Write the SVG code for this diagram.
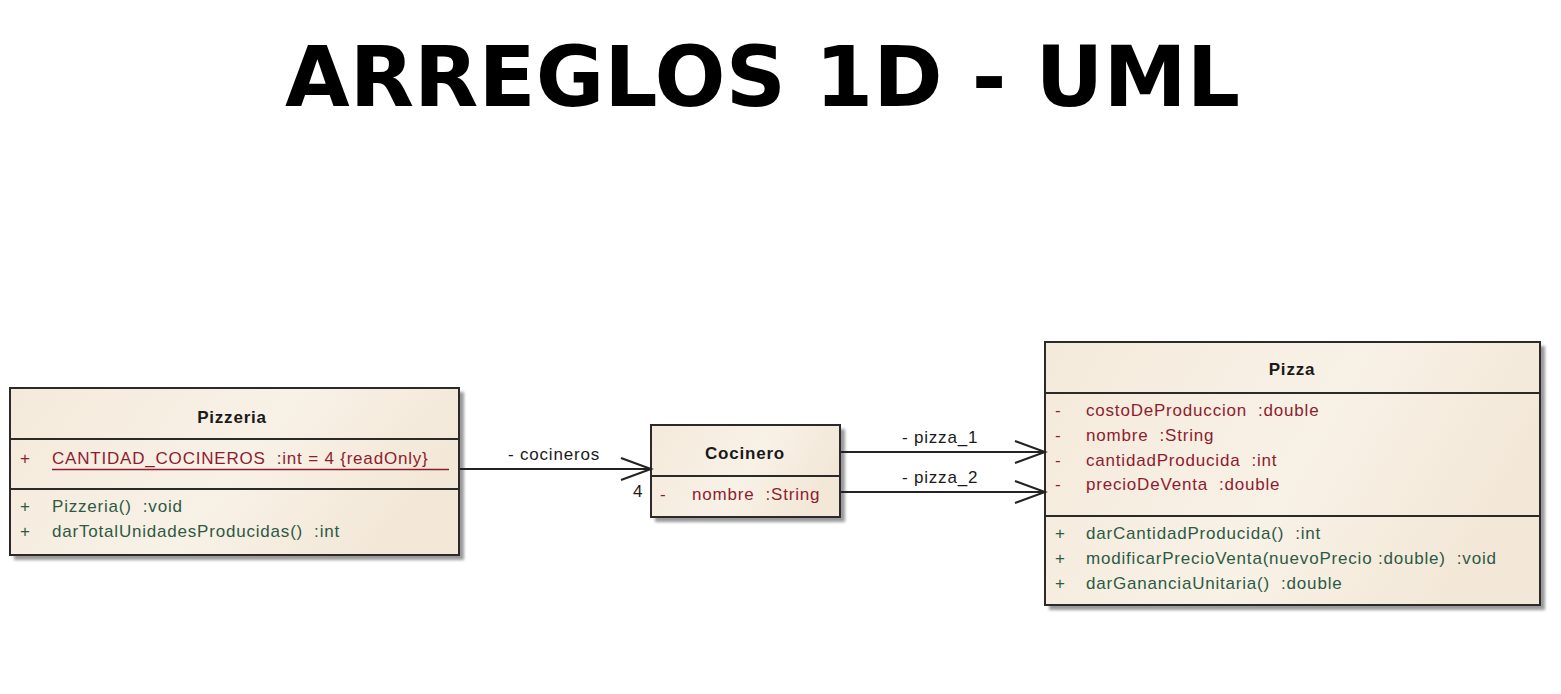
<svg xmlns="http://www.w3.org/2000/svg" width="1561" height="694" viewBox="0 0 1561 694" xml:space="preserve">
<defs>
<linearGradient id="fillg" x1="0" y1="0" x2="1" y2="0.3">
<stop offset="0" stop-color="#f4eadb"/>
<stop offset="0.6" stop-color="#f8f1e6"/>
<stop offset="1" stop-color="#f3e8d8"/>
</linearGradient>
<filter id="sh" x="-5%" y="-5%" width="115%" height="120%">
<feGaussianBlur stdDeviation="1.5"/>
</filter>
<marker id="open" markerWidth="34" markerHeight="26" refX="31" refY="13" orient="auto" markerUnits="userSpaceOnUse">
<path d="M1,2 L31,13 L1,24" fill="none" stroke="#222" stroke-width="2"/>
</marker>
</defs>
<style>
.box{fill:url(#fillg);stroke:#2a2a2a;stroke-width:2}
.shadow{fill:#9a9a9a;filter:url(#sh)}
.sep{stroke:#2a2a2a;stroke-width:2}
.t{font-family:"Liberation Sans",Arial,sans-serif;font-size:17px;letter-spacing:0.8px;white-space:pre}
.name{font-weight:bold;fill:#1a1a1a;text-anchor:middle}
.attr{fill:#8e1c30}
.meth{fill:#2c5a44}
.lbl{fill:#1a1a1a}
.edge{stroke:#222;stroke-width:2;fill:none}
.title{font-family:"DejaVu Sans","Liberation Sans",sans-serif;font-weight:900;font-size:84px;fill:#000}
</style>
<rect width="1561" height="694" fill="#ffffff"/>
<text class="title" x="285" y="106" textLength="955" lengthAdjust="spacingAndGlyphs">ARREGLOS 1D - UML</text>

<g id="Pizzeria">
<rect class="shadow" x="14" y="392" width="450" height="168"/>
<rect class="box" x="10" y="388" width="449" height="167"/>
<line class="sep" x1="10" y1="439" x2="459" y2="439"/>
<line class="sep" x1="10" y1="489" x2="459" y2="489"/>
<text class="t name" x="232" y="423">Pizzeria</text>
<text class="t attr" x="20" y="464">+</text>
<text class="t attr" x="52" y="464">CANTIDAD_COCINEROS  :int = 4 {readOnly}</text>
<line x1="52" y1="469.5" x2="449" y2="469.5" stroke="#8e1c30" stroke-width="1.5"/>
<text class="t meth" x="20" y="512">+</text>
<text class="t meth" x="52" y="512">Pizzeria()  :void</text>
<text class="t meth" x="20" y="537">+</text>
<text class="t meth" x="52" y="537">darTotalUnidadesProducidas()  :int</text>
</g>

<g id="Cocinero">
<rect class="shadow" x="655" y="429" width="190" height="93"/>
<rect class="box" x="651" y="425" width="189" height="92"/>
<line class="sep" x1="651" y1="476" x2="840" y2="476"/>
<text class="t name" x="745" y="459">Cocinero</text>
<text class="t attr" x="660" y="500">-</text>
<text class="t attr" x="692" y="500">nombre  :String</text>
</g>

<g id="Pizza">
<rect class="shadow" x="1049" y="346" width="496" height="264"/>
<rect class="box" x="1045" y="342" width="495" height="263"/>
<line class="sep" x1="1045" y1="393" x2="1540" y2="393"/>
<line class="sep" x1="1045" y1="516" x2="1540" y2="516"/>
<text class="t name" x="1292" y="375">Pizza</text>
<text class="t attr" x="1055" y="416">-</text>
<text class="t attr" x="1086" y="416">costoDeProduccion  :double</text>
<text class="t attr" x="1055" y="441">-</text>
<text class="t attr" x="1086" y="441">nombre  :String</text>
<text class="t attr" x="1055" y="466">-</text>
<text class="t attr" x="1086" y="466">cantidadProducida  :int</text>
<text class="t attr" x="1055" y="490">-</text>
<text class="t attr" x="1086" y="490">precioDeVenta  :double</text>
<text class="t meth" x="1055" y="539">+</text>
<text class="t meth" x="1086" y="539">darCantidadProducida()  :int</text>
<text class="t meth" x="1055" y="564">+</text>
<text class="t meth" x="1086" y="564">modificarPrecioVenta(nuevoPrecio :double)  :void</text>
<text class="t meth" x="1055" y="589">+</text>
<text class="t meth" x="1086" y="589">darGananciaUnitaria()  :double</text>
</g>

<g id="edges">
<line class="edge" x1="460" y1="469" x2="651" y2="469" marker-end="url(#open)"/>
<text class="t lbl" x="508" y="460">- cocineros</text>
<text class="t lbl" x="633" y="497">4</text>
<line class="edge" x1="841" y1="452" x2="1045" y2="452" marker-end="url(#open)"/>
<text class="t lbl" x="902" y="443">- pizza_1</text>
<line class="edge" x1="841" y1="492" x2="1045" y2="492" marker-end="url(#open)"/>
<text class="t lbl" x="902" y="483">- pizza_2</text>
</g>
</svg>
